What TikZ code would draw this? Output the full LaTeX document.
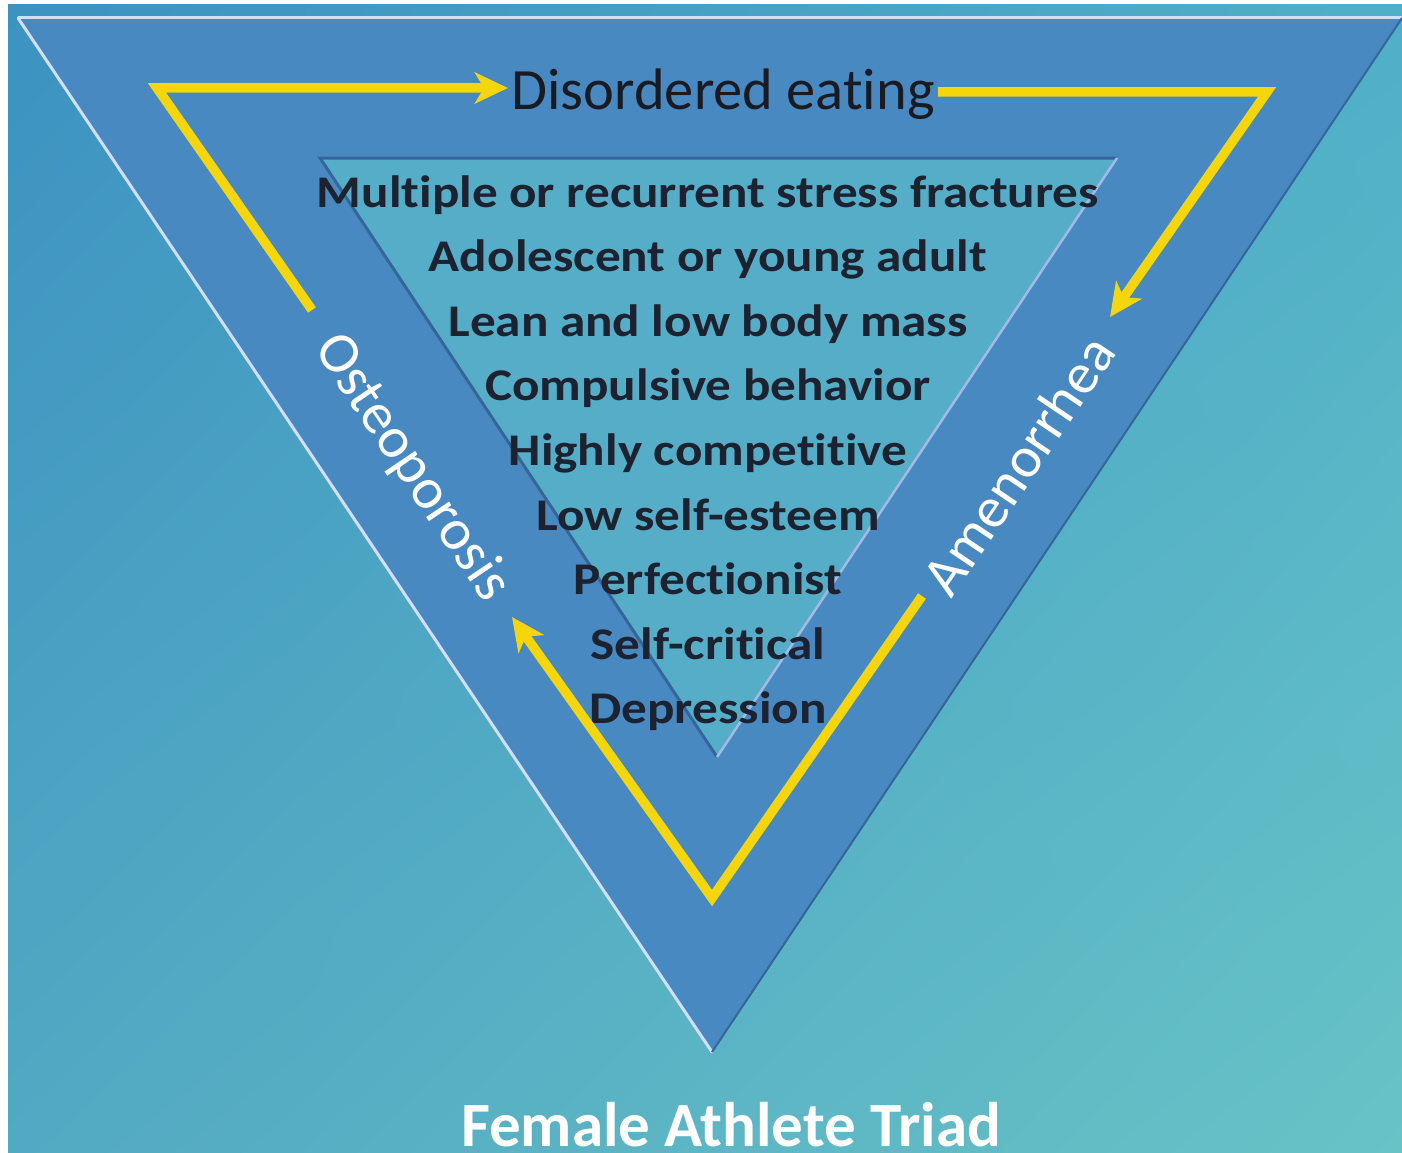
\documentclass[tikz,border=0pt]{standalone}
\usepackage{fontspec}
\setmainfont[Ligatures={NoCommon}]{Carlito}
\newfontfamily\listfont[FakeStretch=1.13,Ligatures={NoCommon}]{Carlito}
\usetikzlibrary{arrows.meta,shadings}
\definecolor{bgA}{HTML}{3C92C1}
\definecolor{bgB}{HTML}{50AFC8}
\definecolor{bgC}{HTML}{52A9C3}
\definecolor{bgD}{HTML}{67C3C6}
\definecolor{band}{HTML}{4789C0}
\definecolor{innerfill}{HTML}{56ADC7}
\definecolor{lightedge}{HTML}{D2DFF2}
\definecolor{darkedge}{HTML}{36659B}
\definecolor{innerlight}{HTML}{A2BBE4}
\definecolor{arrowyellow}{HTML}{F5D60C}
\definecolor{textdark}{HTML}{1C2230}
\definecolor{headdark}{HTML}{1A1A22}
\tikzset{
  flow/.style={draw=arrowyellow, line width=9.5pt, line join=miter,
    -{Stealth[length=33pt,width=31pt,inset=9pt]}},
  itemtext/.style={font=\listfont\bfseries\fontsize{45.3}{50}\selectfont, text=textdark, anchor=base, inner sep=0pt},
  headtext/.style={font=\fontsize{58.5}{64}\selectfont, text=headdark, anchor=base},
  sidetext/.style={font=\fontsize{58}{64}\selectfont, text=white},
  titletext/.style={font=\bfseries\fontsize{63}{70}\selectfont, text=white, anchor=base, inner sep=0pt}
}
\begin{document}
\begin{tikzpicture}[x=1pt,y=-1pt]
\useasboundingbox (0,0) rectangle (1402,1153);
\fill[white] (0,0) rectangle (1402,1153);
\shade[upper left=bgA, upper right=bgB, lower left=bgC, lower right=bgD] (8,5) rectangle (1402,1153);
% outer triangle (band)
\fill[band] (18,18) -- (1402,18) -- (712,1052) -- cycle;
\draw[lightedge, line width=3pt] (18,18) -- (1402,18);
\draw[lightedge, line width=3pt, line cap=round] (18,18) -- (712,1052);
\draw[darkedge, line width=2pt] (1402,18) -- (712,1052);
% inner triangle
\fill[innerfill] (320,158) -- (1117,158) -- (717,757) -- cycle;
\draw[darkedge, line width=3pt] (717,757) -- (320,158) -- (1117,158);
\draw[innerlight, line width=2.5pt] (1117,158) -- (717,757);
% labels
\node[headtext] (de) at (723,110) {Disordered eating};
\node[sidetext, rotate=-56] (ost) at (412,468) {Osteoporosis};
\node[sidetext, rotate=56] (amen) at (1018,465) {Amenorrhea};
\node[itemtext] (l1) at (708,207) {Multiple or recurrent stress fractures};
\node[itemtext] (l2) at (708,271.6) {Adolescent or young adult};
\node[itemtext] (l3) at (708,336.2) {Lean and low body mass};
\node[itemtext] (l4) at (708,400.8) {Compulsive behavior};
\node[itemtext] (l5) at (708,465.4) {Highly competitive};
\node[itemtext] (l6) at (708,530) {Low self-esteem};
\node[itemtext] (l7) at (708,594.6) {Perfectionist};
\node[itemtext] (l8) at (708,659.2) {Self-critical};
\node[itemtext] (l9) at (708,723.8) {Depression};
\node[titletext] (title) at (731,1146) {Female Athlete Triad};
% cycle connectors
\coordinate (c1) at (157,88);
\coordinate (c2) at (1267,92);
\coordinate (c3) at (712,898);
\coordinate (ostTop) at (312,310);
\coordinate (amenTip) at (1110,317);
\coordinate (amenLow) at (922,596);
\coordinate (ostTip) at (512,617);
\draw[flow] (ostTop) -- (c1) -- (c1 -| de.west);
\draw[flow] (de.east |- c2) -- (c2) -- (amenTip);
\draw[flow] (amenLow) -- (c3) -- (ostTip);
\end{tikzpicture}
\end{document}
